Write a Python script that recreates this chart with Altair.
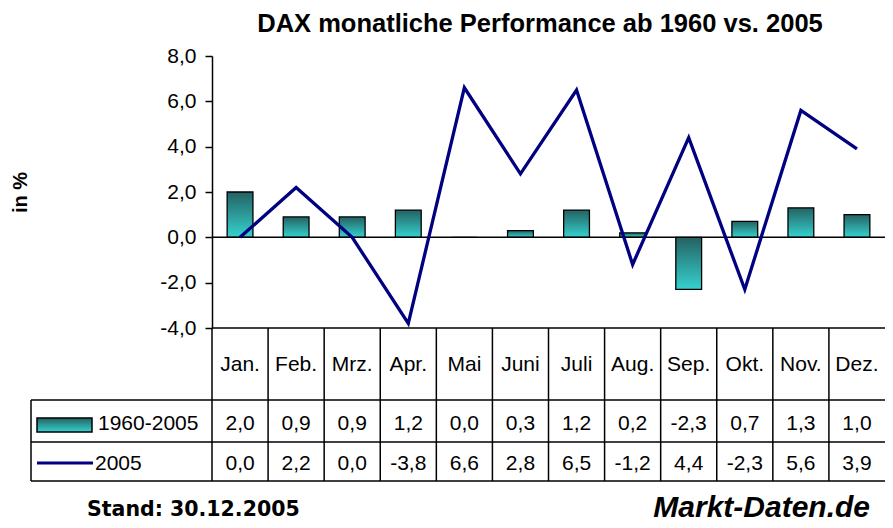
import altair as alt
import pandas as pd

# ---- data ----
months = ["Jan.", "Feb.", "Mrz.", "Apr.", "Mai", "Juni", "Juli", "Aug.", "Sep.", "Okt.", "Nov.", "Dez."]
avg_1960_2005 = [2.0, 0.9, 0.9, 1.2, 0.0, 0.3, 1.2, 0.2, -2.3, 0.7, 1.3, 1.0]
perf_2005 = [0.0, 2.2, 0.0, -3.8, 6.6, 2.8, 6.5, -1.2, 4.4, -2.3, 5.6, 3.9]
series_names = ["1960-2005", "2005"]
y_ticks = [-4, -2, 0, 2, 4, 6, 8]
title_text = "DAX monatliche Performance ab 1960 vs. 2005"
y_title = "in %"
footer_left = "Stand: 30.12.2005"
footer_right = "Markt-Daten.de"


def de(v):
    return f"{v:.1f}".replace(".", ",")


df = pd.DataFrame({
    "month": months,
    "avg": avg_1960_2005,
    "y2005": perf_2005,
    "avg_lbl": [de(v) for v in avg_1960_2005],
    "y_lbl": [de(v) for v in perf_2005],
})
one = pd.DataFrame({"k": [0]})

# ---- layout ----
W, H = 673, 425
PLOT_H = 272
LEG_X = -181
FONT = "Liberation Sans"
FS = 21

grad = alt.Gradient(
    gradient="linear",
    stops=[alt.GradientStop(color="#236262", offset=0),
           alt.GradientStop(color="#36d2cf", offset=1)],
    x1=0, x2=0, y1=0, y2=1,
)

xscale = alt.Scale(domain=months, paddingInner=0, paddingOuter=0)
xenc = alt.X("month:N", sort=months, scale=xscale, axis=None)
yscale = alt.Scale(domain=[-4, 8], range=[PLOT_H, 0], nice=False, zero=False)

yaxis = alt.Axis(
    values=y_ticks,
    labelExpr="(datum.value < 0 ? '-' : '') + replace(format(abs(datum.value), '.1f'), '.', ',')",
    title=y_title, titleFont=FONT, titleFontSize=20, titleFontWeight="bold", titleColor="black",
    titleAngle=-90, titleX=-192, titleY=136, titleAlign="center", titleBaseline="middle",
    labelFont=FONT, labelFontSize=21, labelColor="black", labelPadding=9,
    domainColor="black", domainWidth=1.5, tickColor="black", tickWidth=1.5, tickSize=7,
    grid=False,
)

bars = alt.Chart(df).mark_bar(
    width=alt.RelativeBandSize(0.46), fill=grad, stroke="black", strokeWidth=1.3
).encode(
    x=xenc,
    y=alt.Y("avg:Q", scale=yscale, axis=yaxis),
    y2=alt.datum(0),
)

zero_rule = alt.Chart(one).mark_rule(color="black", strokeWidth=1.5).encode(
    y=alt.datum(0), x=alt.value(0), x2=alt.value(W)
)

line = alt.Chart(df).mark_line(color="#000080", strokeWidth=3.3).encode(
    x=xenc, y=alt.Y("y2005:Q", scale=yscale)
)

# ---- data table ----
def hline(y, x0):
    return alt.Chart(one).mark_rule(color="black", strokeWidth=1.5).encode(
        x=alt.value(x0), x2=alt.value(W), y=alt.value(y)
    )


vlines = alt.Chart(df).mark_rule(color="black", strokeWidth=1.5).encode(
    x=alt.X("month:N", sort=months, scale=xscale, axis=None, bandPosition=0),
    y=alt.value(PLOT_H), y2=alt.value(H),
)
left_border = alt.Chart(one).mark_rule(color="black", strokeWidth=1.5).encode(
    x=alt.value(LEG_X), y=alt.value(344), y2=alt.value(H)
)

hdr = alt.Chart(df).mark_text(font=FONT, fontSize=FS, color="black", baseline="alphabetic").encode(
    x=xenc, y=alt.value(315), text="month:N"
)
row1 = alt.Chart(df).mark_text(font=FONT, fontSize=FS, color="black", baseline="alphabetic").encode(
    x=xenc, y=alt.value(374), text="avg_lbl:N"
)
row2 = alt.Chart(df).mark_text(font=FONT, fontSize=FS, color="black", baseline="alphabetic").encode(
    x=xenc, y=alt.value(414), text="y_lbl:N"
)

leg_rect = alt.Chart(one).mark_rect(fill=grad, stroke="black", strokeWidth=1.5).encode(
    x=alt.value(-175), x2=alt.value(-120), y=alt.value(362), y2=alt.value(376)
)
leg_line = alt.Chart(one).mark_rule(color="#000080", strokeWidth=3).encode(
    x=alt.value(-175), x2=alt.value(-119), y=alt.value(407)
)
leg_lbl1 = alt.Chart(pd.DataFrame({"t": [series_names[0]]})).mark_text(
    font=FONT, fontSize=FS, color="black", align="left", baseline="alphabetic"
).encode(x=alt.value(-114), y=alt.value(374), text="t:N")
leg_lbl2 = alt.Chart(pd.DataFrame({"t": [series_names[1]]})).mark_text(
    font=FONT, fontSize=FS, color="black", align="left", baseline="alphabetic"
).encode(x=alt.value(-117), y=alt.value(414), text="t:N")

# ---- titles / footers ----
title = alt.Chart(pd.DataFrame({"t": [title_text]})).mark_text(
    font=FONT, fontSize=25.5, fontWeight="bold", color="black", align="center", baseline="alphabetic"
).encode(x=alt.value(328), y=alt.value(-24.5), text="t:N")
foot_l = alt.Chart(pd.DataFrame({"t": [footer_left]})).mark_text(
    font="DejaVu Sans", fontSize=20.5, fontWeight="bold", color="black", align="left", baseline="alphabetic"
).encode(x=alt.value(-125), y=alt.value(460), text="t:N")
foot_r = alt.Chart(pd.DataFrame({"t": [footer_right]})).mark_text(
    font=FONT, fontSize=30, fontWeight="bold", fontStyle="italic", color="black", align="right", baseline="alphabetic"
).encode(x=alt.value(658), y=alt.value(461), text="t:N")

chart = alt.layer(
    bars, zero_rule, line,
    vlines, left_border,
    hline(PLOT_H, 0), hline(344, LEG_X), hline(386, LEG_X), hline(H, LEG_X),
    hdr, row1, row2,
    leg_rect, leg_line, leg_lbl1, leg_lbl2,
    title, foot_l, foot_r,
).properties(
    width=W, height=H,
    autosize=alt.AutoSizeParams(type="none"),
    padding={"left": 204, "top": 48, "right": 0, "bottom": 45},
    background="white",
).configure_view(stroke=None)

chart.save("out.html", embed_options={"renderer": "svg", "actions": False})
